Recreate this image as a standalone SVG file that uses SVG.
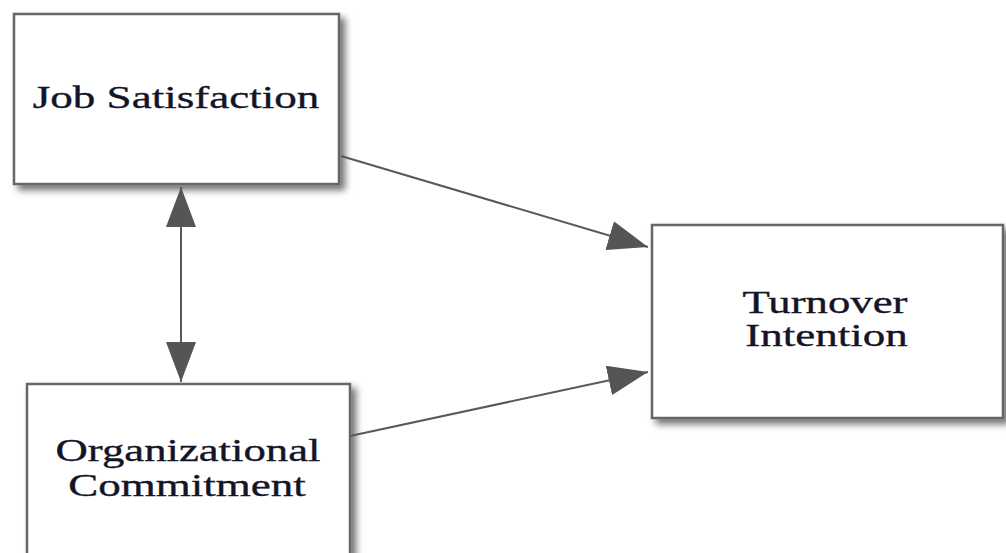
<svg xmlns="http://www.w3.org/2000/svg" width="1006" height="553" viewBox="0 0 1006 553">
<style>
.box{fill:#ffffff;stroke:#666666;stroke-width:2.5;filter:url(#sh)}
.lbl{font-family:"Liberation Serif","Times New Roman",serif;font-size:31.5px;fill:#141428;stroke:#141428;stroke-width:0.35;text-anchor:middle}
.edge{stroke:#595959;stroke-width:2;fill:none}
</style>
<defs>
<filter id="sh" x="-10%" y="-10%" width="125%" height="125%">
<feDropShadow dx="5" dy="5" stdDeviation="3.5" flood-color="#000" flood-opacity="0.55"/>
</filter>
<marker id="ah" viewBox="0 0 40 30" refX="40" refY="15" markerWidth="40" markerHeight="30" markerUnits="userSpaceOnUse" orient="auto-start-reverse">
<path d="M0,0 L40,15 L0,30 Z" fill="#555555"/>
</marker>
</defs>
<g id="node-job-satisfaction">
<rect class="box" x="14" y="14" width="325" height="170"/>
<text class="lbl" transform="translate(176,108) scale(1.43,1)">Job Satisfaction</text>
</g>
<g id="node-organizational-commitment">
<rect class="box" x="27" y="384" width="323" height="200"/>
<text class="lbl" transform="translate(188,461) scale(1.42,1)">Organizational</text>
<text class="lbl" transform="translate(187,496) scale(1.43,1)">Commitment</text>
</g>
<g id="node-turnover-intention">
<rect class="box" x="652" y="225" width="351" height="193"/>
<text class="lbl" transform="translate(825,313) scale(1.42,1)">Turnover</text>
<text class="lbl" transform="translate(826.5,346) scale(1.43,1)">Intention</text>
</g>
<g id="connectors">
<line class="edge" x1="181" y1="187" x2="181" y2="382" marker-start="url(#ah)" marker-end="url(#ah)"/>
<line class="edge" x1="341" y1="156" x2="648" y2="247" marker-end="url(#ah)"/>
<line class="edge" x1="350" y1="436" x2="648" y2="372" marker-end="url(#ah)"/>
</g>
</svg>
